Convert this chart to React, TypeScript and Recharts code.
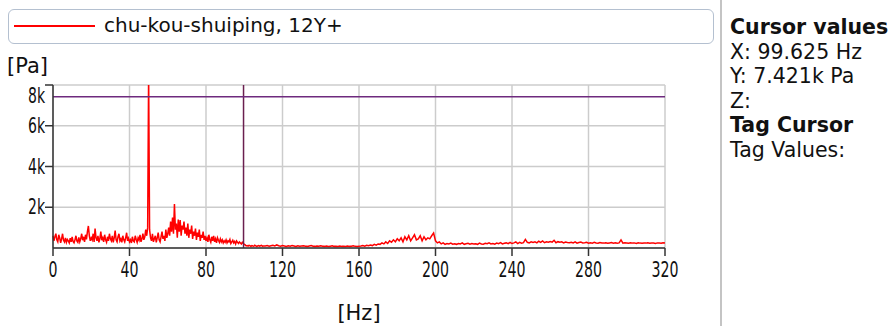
import React from 'react';
import { LineChart, Line, XAxis, YAxis, CartesianGrid, ReferenceLine, Label } from 'recharts';

// Spectrum amplitude [Pa], 0 .. 110 Hz in 0.5 Hz steps
const lowBand: number[] = [
  600, 350, 550, 700, 400, 300, 650, 500, 250, 450, 700, 380, 300, 500, 280, 420, 350, 250, 480, 300, 550,
  320, 250, 400, 600, 350, 280, 520, 300, 450, 700, 380, 550, 300, 650, 420, 800, 1080, 600, 350, 500,
  400, 700, 300, 950, 500, 350, 600, 280, 450, 800, 380, 500, 300, 650, 400, 280, 550, 350, 700, 450,
  350, 600, 280, 500, 850, 400, 300, 550, 700, 350, 450, 280, 600, 400, 300, 500, 750, 350, 480, 300,
  400, 250, 550, 350, 300, 600, 420, 280, 500, 380, 650, 300, 450, 700, 400, 550, 900, 600, 1000, 8600,
  900, 500, 350, 700, 300, 450, 600, 280, 500, 750, 400, 300, 550, 800, 450, 600, 350, 900, 500, 700,
  1000, 600, 1300, 800, 1500, 700, 2160, 900, 1200, 500, 1400, 800, 1370, 600, 1100, 900, 1300, 700, 1000, 600,
  1200, 500, 900, 700, 1100, 450, 800, 600, 950, 400, 750, 550, 900, 350, 650, 500, 800, 400, 600, 350,
  500, 300, 650, 400, 280, 550, 350, 600, 300, 450, 250, 500, 380, 280, 450, 300, 400, 250, 350, 280,
  400, 250, 350, 300, 420, 220, 300, 380, 250, 320, 200, 350, 280, 220, 300, 250, 200, 280, 230, 180,
  150, 100, 120, 90, 130, 110, 80, 120, 100, 90, 140, 110, 80, 100, 120, 90, 110, 130, 90, 100,
];

// Spectrum amplitude [Pa], 111 .. 320 Hz in 1 Hz steps
const highBand: number[] = [
  100, 120, 90, 110, 130, 100, 150, 110, 90, 120,
  100, 80, 110, 90, 120, 100, 80, 110, 90, 100,
  110, 90, 80, 100, 120, 90, 80, 100, 90, 110,
  90, 80, 100, 70, 90, 110, 80, 90, 70, 100,
  80, 90, 70, 100, 80, 90, 110, 80, 70, 90,
  100, 120, 90, 130, 110, 150, 120, 180, 140, 200,
  180, 250, 200, 300, 220, 350, 280, 400, 300, 450,
  350, 500, 300, 550, 400, 600, 350, 500, 650, 400,
  450, 600, 350, 550, 400, 500, 450, 600, 730, 350,
  250, 300, 200, 250, 180, 220, 200, 240, 190, 210,
  180, 220, 200, 250, 180, 210, 230, 190, 220, 200,
  210, 180, 240, 200, 190, 230, 210, 250, 200, 220,
  190, 240, 210, 260, 200, 230, 250, 210, 280, 220,
  250, 300, 220, 280, 240, 260, 420, 280, 250, 300,
  270, 300, 250, 330, 280, 350, 260, 300, 280, 320,
  290, 380, 260, 310, 280, 300, 250, 290, 270, 260,
  280, 250, 300, 240, 270, 290, 250, 260, 280, 240,
  260, 240, 280, 250, 230, 270, 250, 240, 260, 230,
  250, 270, 240, 260, 230, 250, 400, 240, 260, 250,
  230, 260, 240, 250, 220, 260, 240, 230, 250, 240,
  260, 230, 250, 240, 220, 250, 240, 230, 260, 250,
];

const xTicks: number[] = [0, 40, 80, 120, 160, 200, 240, 280, 320];
const yTicks: number[] = [2000, 4000, 6000, 8000];
const yTickLabels: string[] = ['2k', '4k', '6k', '8k'];

const seriesName = 'chu-kou-shuiping, 12Y+';
const cursorX = 99.625;
const cursorY = 7421;
const cursorLines: string[] = ['X: 99.625 Hz', 'Y: 7.421k Pa', 'Z:'];
const tagLines: string[] = ['Tag Values:'];

const data = [
  ...lowBand.map((v, i) => ({ hz: i * 0.5, pa: v })),
  ...highBand.map((v, i) => ({ hz: 111 + i, pa: v })),
];

const FONT = "'DejaVu Sans Condensed', 'DejaVu Sans', sans-serif";
const UI_FONT = "'DejaVu Sans', sans-serif";

const YTick = (props: any) => {
  const { x, y, payload } = props;
  const idx = yTicks.indexOf(payload.value);
  const label = idx >= 0 ? yTickLabels[idx] : String(payload.value);
  const dy = payload.value === 8000 ? 18 : 7;
  return (
    <text x={x} y={y} dy={dy} textAnchor="end" fontSize={21} fontFamily={FONT} fill="#111"
      textLength={label.length * 8.5} lengthAdjust="spacingAndGlyphs">
      {label}
    </text>
  );
};

const XTick = (props: any) => {
  const { x, y, payload } = props;
  const label = String(payload.value);
  return (
    <text x={x} y={y} dy={19} textAnchor="middle" fontSize={21} fontFamily={FONT} fill="#111"
      textLength={label.length * 9} lengthAdjust="spacingAndGlyphs">
      {label}
    </text>
  );
};

export default function App() {
  return (
    <div style={{ position: 'absolute', left: 0, top: 0, width: 894, height: 326, background: '#fff', overflow: 'hidden' }}>
      {/* legend box */}
      <div
        style={{
          position: 'absolute', left: 8, top: 9, width: 706, height: 35,
          border: '1px solid #b4c0d0', borderRadius: 6, boxSizing: 'border-box',
        }}
      />
      <div style={{ position: 'absolute', left: 14, top: 25, width: 81, height: 1.5, background: '#ff0000' }} />
      <div style={{ position: 'absolute', left: 104, top: 13, fontSize: 20, fontFamily: UI_FONT, color: '#111', whiteSpace: 'nowrap' }}>
        {seriesName}
      </div>
      <div style={{ position: 'absolute', left: 7, top: 54, fontSize: 21, fontFamily: UI_FONT, color: '#111' }}>[Pa]</div>

      <div style={{ position: 'absolute', left: 0, top: 0 }}>
        <LineChart width={700} height={326} data={data} margin={{ top: 85, right: 35, bottom: 0, left: 0 }}>
          <CartesianGrid stroke="#cccccc" strokeWidth={1.5} />
          <XAxis
            dataKey="hz" type="number" domain={[0, 320]} ticks={xTicks} interval={0}
            height={78} tickSize={8} tickMargin={2} tick={<XTick />}
            axisLine={{ stroke: '#333', strokeWidth: 1.5 }} tickLine={{ stroke: '#333', strokeWidth: 1.5 }}
          >
            <Label value="[Hz]" position="insideBottom" offset={6} fontSize={21} fontFamily={UI_FONT} fill="#111" />
          </XAxis>
          <YAxis
            type="number" domain={[0, 8000]} ticks={yTicks} interval={0} allowDataOverflow
            width={53} tickSize={8} tickMargin={0} tick={<YTick />}
            axisLine={{ stroke: '#333', strokeWidth: 1.5 }} tickLine={{ stroke: '#333', strokeWidth: 1.5 }}
          />
          <Line type="linear" dataKey="pa" stroke="#ff0000" strokeWidth={1.5} dot={false} isAnimationActive={false} />
          <ReferenceLine x={cursorX} stroke="#6a1f4f" strokeWidth={1.5} />
          <ReferenceLine y={cursorY} stroke="#6e2a7e" strokeWidth={1.5} />
        </LineChart>
      </div>

      {/* separator */}
      <div style={{ position: 'absolute', left: 720, top: 0, width: 2, height: 326, background: '#c4c4c4' }} />

      {/* cursor panel */}
      <div style={{ position: 'absolute', left: 730, top: 15, fontFamily: UI_FONT, fontSize: 20.5, lineHeight: '24.5px', color: '#111', whiteSpace: 'nowrap' }}>
        <div style={{ fontWeight: 'bold' }}>Cursor values</div>
        {cursorLines.map((t) => (
          <div key={t}>{t}</div>
        ))}
        <div style={{ fontWeight: 'bold' }}>Tag Cursor</div>
        {tagLines.map((t) => (
          <div key={t}>{t}</div>
        ))}
      </div>
    </div>
  );
}
